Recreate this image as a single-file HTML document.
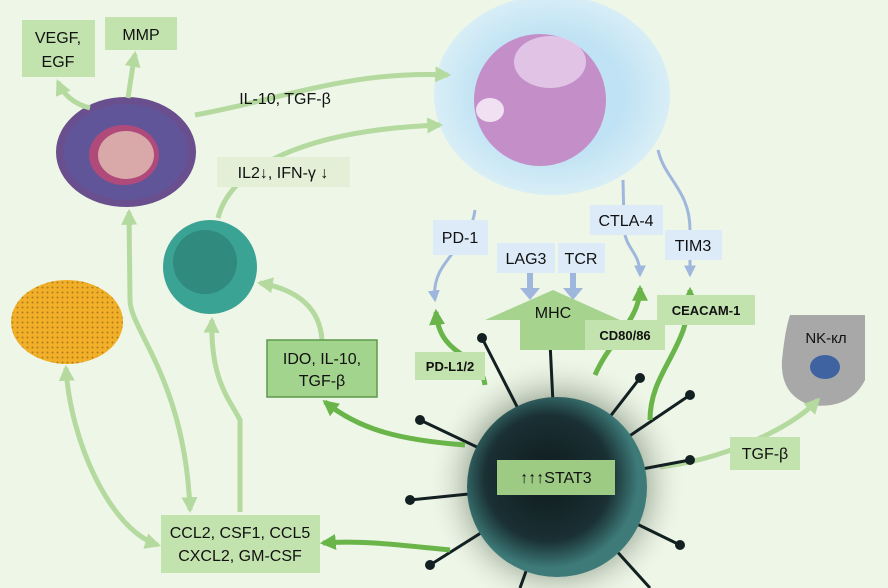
<!DOCTYPE html>
<html><head><meta charset="utf-8"><style>
html,body{margin:0;padding:0;background:#eef6e8;}
svg{display:block;font-family:"Liberation Sans",sans-serif;}
</style></head><body>
<svg width="888" height="588" viewBox="0 0 888 588">
<defs>
<marker id="al" viewBox="0 0 10 10" refX="8" refY="5" markerWidth="3.2" markerHeight="3.2" orient="auto-start-reverse"><path d="M0,0L10,5L0,10z" fill="#b5da9f"/></marker>
<marker id="ad" viewBox="0 0 10 10" refX="8" refY="5" markerWidth="3.2" markerHeight="3.2" orient="auto-start-reverse"><path d="M0,0L10,5L0,10z" fill="#6ab54a"/></marker>
<marker id="ab" viewBox="0 0 10 10" refX="8" refY="5" markerWidth="4" markerHeight="4" orient="auto"><path d="M0,0L10,5L0,10z" fill="#9fb7dc"/></marker>
<radialGradient id="tglow"><stop offset="0.6" stop-color="#bfe2f4"/><stop offset="1" stop-color="#d8eef6"/></radialGradient>
<radialGradient id="vir" cx="0.45" cy="0.45"><stop offset="0" stop-color="#0f1a1c"/><stop offset="0.7" stop-color="#1a3034"/><stop offset="1" stop-color="#3d7a78"/></radialGradient>
<radialGradient id="vshadow"><stop offset="0.6" stop-color="#5a6a55" stop-opacity="0.6"/><stop offset="1" stop-color="#eef6e8" stop-opacity="0"/></radialGradient>
<pattern id="dots" width="5" height="5" patternUnits="userSpaceOnUse"><rect width="5" height="5" fill="#f2b028"/><circle cx="2.5" cy="2.5" r="1" fill="#b07a20"/></pattern>
</defs>

<!-- T cell -->
<ellipse cx="552" cy="95" rx="118" ry="100" fill="url(#tglow)"/>
<circle cx="540" cy="100" r="66" fill="#c48fc8"/>
<ellipse cx="550" cy="62" rx="36" ry="26" fill="#e8d0ee" opacity="0.8"/>
<ellipse cx="490" cy="110" rx="14" ry="12" fill="#f0e0f2"/>

<!-- macrophage -->
<ellipse cx="126" cy="152" rx="70" ry="55" fill="#6a4f8e"/>
<ellipse cx="126" cy="152" rx="62" ry="48" fill="#5c5aa0" opacity="0.6"/>
<ellipse cx="124" cy="155" rx="35" ry="30" fill="#b04a7a"/>
<ellipse cx="126" cy="155" rx="28" ry="24" fill="#d9a8a8"/>

<!-- dendritic green -->
<circle cx="210" cy="267" r="47" fill="#3ba393"/>
<circle cx="205" cy="262" r="32" fill="#2a7a70" opacity="0.6"/>

<!-- yellow -->
<ellipse cx="67" cy="322" rx="56" ry="42" fill="url(#dots)"/>

<!-- NK -->
<path d="M790,315 L865,315 L865,380 Q850,410 810,405 Q780,395 782,360 Q785,330 790,315z" fill="#a8a8a8"/>
<ellipse cx="825" cy="367" rx="15" ry="12" fill="#3f63a0"/>

<!-- light arrows -->
<g fill="none" stroke="#b5da9f" stroke-width="5" marker-end="url(#al)">
<path d="M195,115 C280,100 350,70 448,75"/>
<path d="M218,218 C230,170 300,130 440,125"/>
<path d="M90,108 C78,105 65,98 58,82"/>
<path d="M128,98 C130,85 132,70 135,54"/>
<path d="M240,512 L240,420 C230,400 210,380 212,320"/>
<path d="M322,340 C320,310 300,290 260,283"/>
<path d="M660,467 C720,460 790,430 818,400"/>
</g>
<path d="M129,212 L130,300 C130,330 185,380 190,510" fill="none" stroke="#b5da9f" stroke-width="5" marker-start="url(#al)" marker-end="url(#al)"/>
<path d="M66,368 C70,440 110,530 158,545" fill="none" stroke="#b5da9f" stroke-width="5" marker-start="url(#al)" marker-end="url(#al)"/>

<!-- blue connectors -->
<g fill="none" stroke="#9fb7dc" stroke-width="3" marker-end="url(#ab)">
<path d="M475,210 C470,250 430,260 435,300"/>
<path d="M623,180 L624,225 C624,250 640,250 640,275"/>
<path d="M658,150 C665,180 690,190 690,230 L690,275"/>
</g>
<path d="M530,273 L530,290" stroke="#9fb7dc" stroke-width="6"/>
<path d="M520,288 L540,288 L530,300z" fill="#9fb7dc"/>
<path d="M573,273 L573,290" stroke="#9fb7dc" stroke-width="6"/>
<path d="M563,288 L583,288 L573,300z" fill="#9fb7dc"/>

<!-- virus -->
<circle cx="557" cy="485" r="130" fill="url(#vshadow)"/>
<g stroke="#122022" stroke-width="3">
<line x1="557" y1="485" x2="482" y2="338"/><line x1="557" y1="485" x2="550" y2="342"/>
<line x1="557" y1="485" x2="640" y2="378"/><line x1="557" y1="485" x2="690" y2="395"/>
<line x1="557" y1="485" x2="420" y2="420"/><line x1="557" y1="485" x2="410" y2="500"/>
<line x1="557" y1="485" x2="430" y2="565"/><line x1="557" y1="485" x2="680" y2="545"/>
<line x1="557" y1="485" x2="650" y2="588"/><line x1="557" y1="485" x2="690" y2="460"/>
<line x1="557" y1="485" x2="520" y2="588"/>
</g>
<g fill="#122022">
<circle cx="482" cy="338" r="5"/><circle cx="550" cy="342" r="5"/><circle cx="640" cy="378" r="5"/><circle cx="690" cy="395" r="5"/><circle cx="420" cy="420" r="5"/><circle cx="410" cy="500" r="5"/><circle cx="430" cy="565" r="5"/><circle cx="680" cy="545" r="5"/><circle cx="690" cy="460" r="5"/>
</g>
<circle cx="557" cy="487" r="90" fill="url(#vir)"/>

<!-- MHC arrow -->
<path d="M485,320 L553,290 L620,320 L585,320 L585,350 L520,350 L520,320z" fill="#a6d48e"/>

<!-- dark arrows -->
<g fill="none" stroke="#6ab54a" stroke-width="5" marker-end="url(#ad)">
<path d="M485,385 C480,350 440,360 436,312"/>
<path d="M595,375 C610,340 640,320 640,288"/>
<path d="M650,420 C650,370 690,350 690,290"/>
<path d="M465,445 C400,440 360,430 325,402"/>
<path d="M450,550 C400,545 360,540 323,543"/>
</g>

<!-- boxes -->
<g fill="#c2e2ae">
<rect x="22" y="20" width="73" height="57"/><rect x="105" y="17" width="72" height="33"/>
<rect x="161" y="515" width="159" height="58"/>
<rect x="415" y="352" width="70" height="28"/><rect x="585" y="320" width="80" height="30"/>
<rect x="657" y="295" width="98" height="30"/><rect x="730" y="437" width="70" height="33"/>
<rect x="497" y="460" width="118" height="35" fill="#9ecb84"/>
</g>
<rect x="217" y="157" width="133" height="30" fill="#e3efd6"/>
<rect x="267" y="340" width="110" height="57" fill="#a3d48e" stroke="#5c9a4a" stroke-width="1.5"/>
<g fill="#dcebf7">
<rect x="433" y="220" width="55" height="35"/><rect x="497" y="243" width="58" height="30"/>
<rect x="558" y="243" width="47" height="30"/><rect x="590" y="205" width="73" height="30"/>
<rect x="665" y="230" width="57" height="30"/>
</g>

<g font-size="16" fill="#111" text-anchor="middle">
<text x="58" y="43">VEGF,</text><text x="58" y="67">EGF</text>
<text x="141" y="40">MMP</text>
<text x="285" y="104">IL-10, TGF-β</text>
<text x="283" y="178">IL2↓, IFN-γ ↓</text>
<text x="460" y="243">PD-1</text><text x="526" y="264">LAG3</text><text x="581" y="264">TCR</text>
<text x="626" y="226">CTLA-4</text><text x="693" y="251">TIM3</text>
<text x="553" y="318">MHC</text>
<text x="322" y="364">IDO, IL-10,</text><text x="322" y="386">TGF-β</text>
<text x="556" y="483">↑↑↑STAT3</text>
<text x="765" y="459">TGF-β</text>
<text x="826" y="343" font-size="15">NK-кл</text>
<text x="240" y="538">CCL2, CSF1, CCL5</text><text x="240" y="561">CXCL2, GM-CSF</text>
</g>
<g font-size="13" font-weight="bold" fill="#111" text-anchor="middle">
<text x="450" y="371">PD-L1/2</text><text x="625" y="340">CD80/86</text><text x="706" y="315">CEACAM-1</text>
</g>
</svg>
</body></html>
